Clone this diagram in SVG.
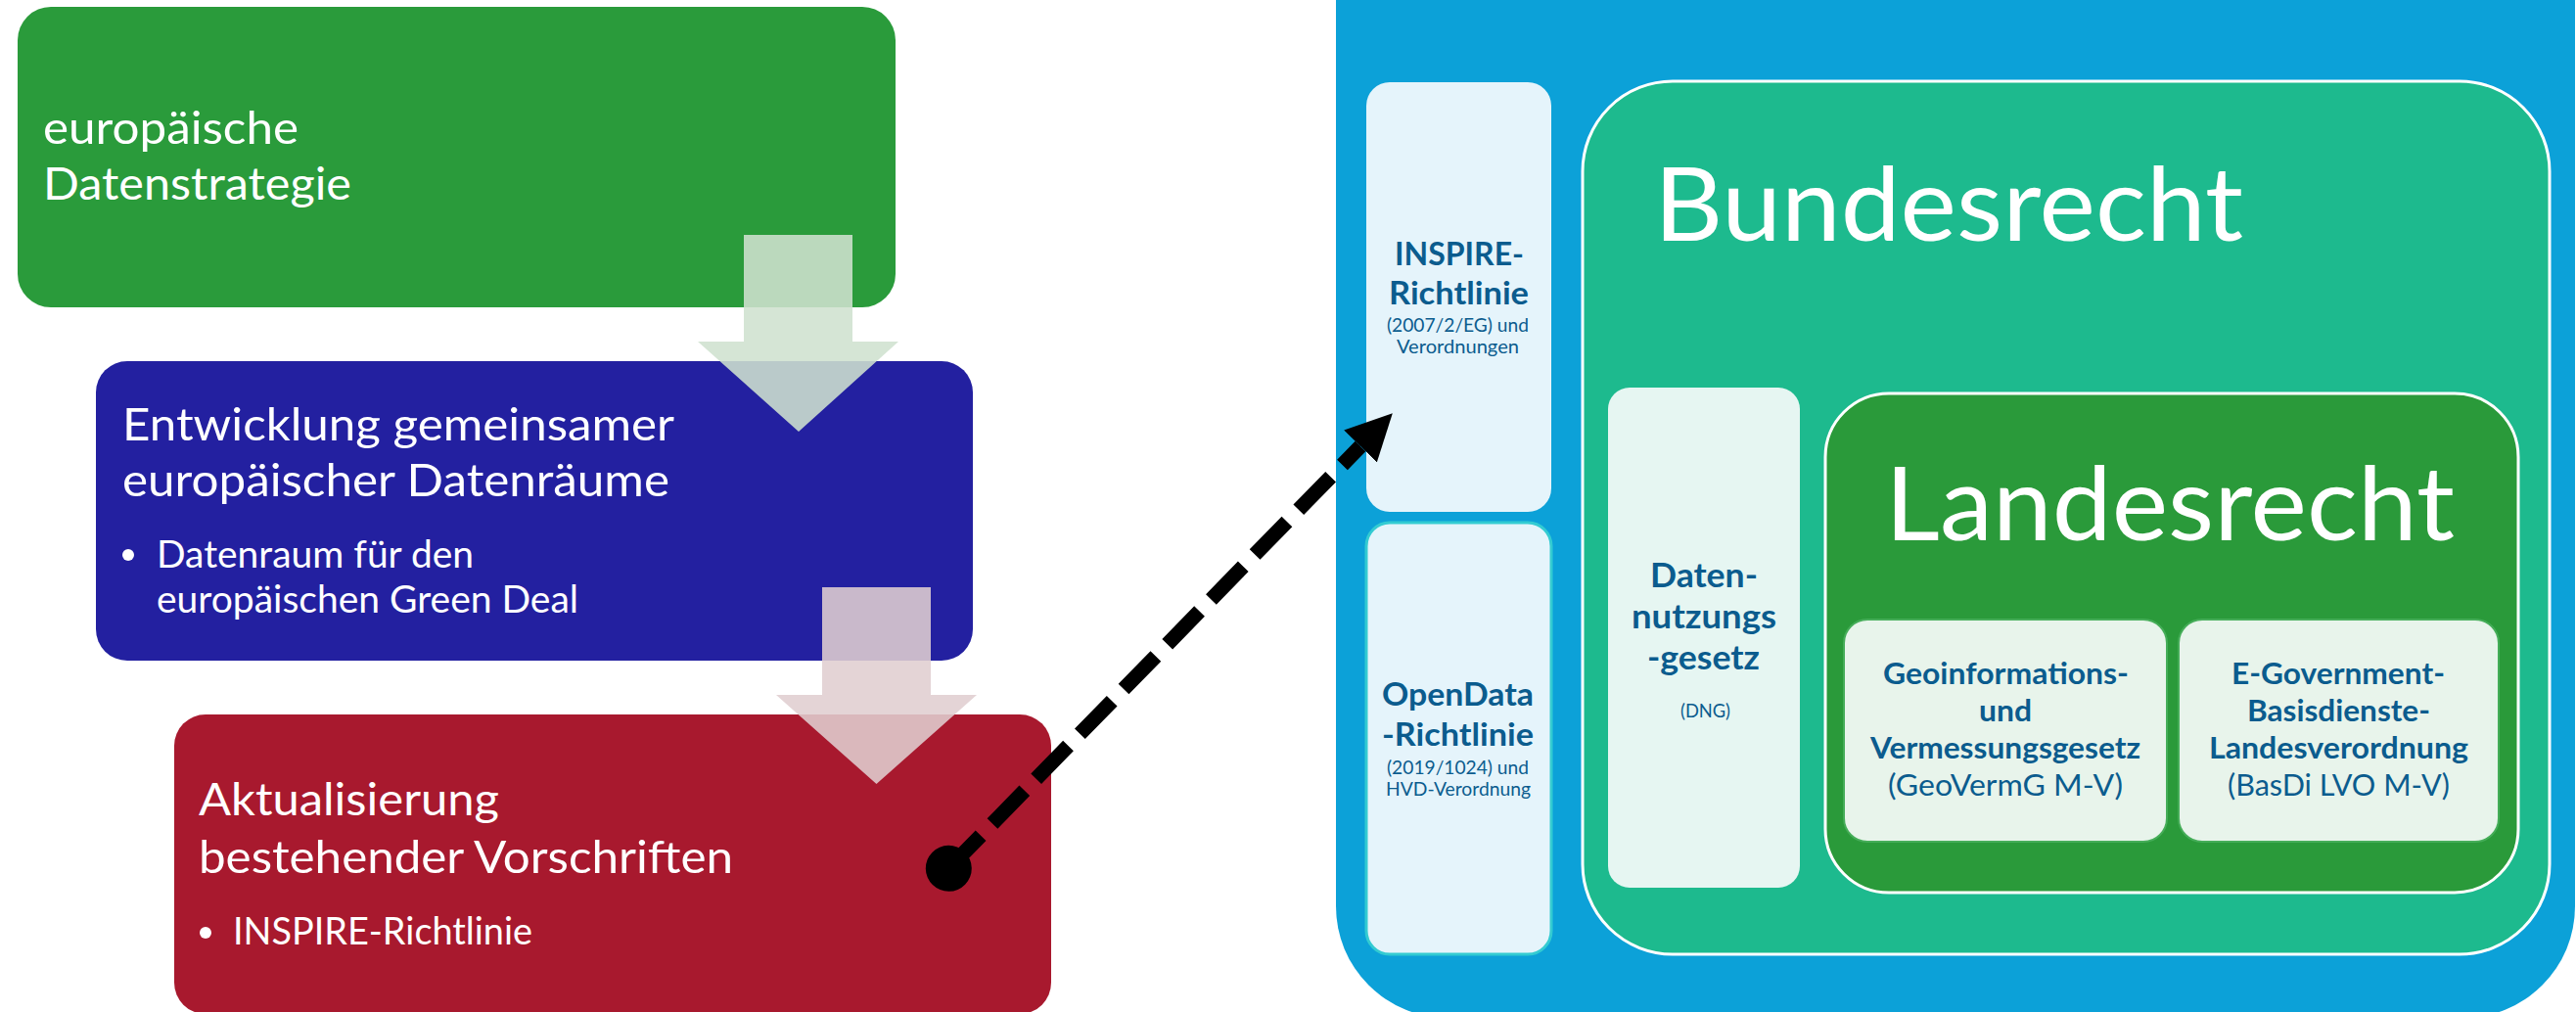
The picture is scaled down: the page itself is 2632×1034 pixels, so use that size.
<svg xmlns="http://www.w3.org/2000/svg" width="2632" height="1034" viewBox="0 0 2632 1034">
<defs>
<style>
.t{font-family:Lato,"Open Sans","Liberation Sans",sans-serif;fill:#ffffff}
.big{font-size:47px}
.bul{font-size:38px}
.huge{font-size:105px}
.b{font-family:Lato,"Open Sans","Liberation Sans",sans-serif;fill:#0b5c8e}
.bb{font-weight:700}
.s19{font-size:19px}
.s33{font-size:33px}
.s35{font-size:35px}
.s31{font-size:31px}
.box{stroke:none}
.light1{fill:#e5f4fb}
.light2{fill:#e6f6f2}
.light3{fill:#e8f4eb;stroke:#45ad58;stroke-width:2}
</style>
<marker id="dot" markerUnits="userSpaceOnUse" viewBox="0 0 48 48" refX="24" refY="24" markerWidth="48" markerHeight="48" orient="auto">
<circle cx="24" cy="24" r="23.5" fill="#000"/>
</marker>
<marker id="head" markerUnits="userSpaceOnUse" viewBox="0 0 47 47" refX="0" refY="23.5" markerWidth="47" markerHeight="47" orient="auto">
<path d="M0,0 L47,23.5 L0,47 z" fill="#000"/>
</marker>
</defs>
<rect width="2632" height="1034" fill="#ffffff"/>

<g id="node-datenstrategie">
<rect x="18" y="7" width="897" height="307" rx="34" fill="#2a9b3b"/>
<text class="t big" x="44" y="147" textLength="261" lengthAdjust="spacingAndGlyphs">europäische</text>
<text class="t big" x="44" y="204" textLength="315" lengthAdjust="spacingAndGlyphs">Datenstrategie</text>
</g>

<g id="node-datenraeume">
<rect x="98" y="369" width="896" height="306" rx="32" fill="#2320a0"/>
<text class="t big" x="125" y="450" textLength="564" lengthAdjust="spacingAndGlyphs">Entwicklung gemeinsamer</text>
<text class="t big" x="125" y="507" textLength="559" lengthAdjust="spacingAndGlyphs">europäischer Datenräume</text>
<circle cx="131" cy="567" r="6" fill="#ffffff"/>
<text class="t bul" x="160" y="580" textLength="324" lengthAdjust="spacingAndGlyphs">Datenraum für den</text>
<text class="t bul" x="160" y="626" textLength="431" lengthAdjust="spacingAndGlyphs">europäischen Green Deal</text>
</g>

<g id="node-aktualisierung">
<rect x="178" y="730" width="896" height="306" rx="32" fill="#a8192e"/>
<text class="t big" x="203" y="833" textLength="307" lengthAdjust="spacingAndGlyphs">Aktualisierung</text>
<text class="t big" x="203" y="892" textLength="546" lengthAdjust="spacingAndGlyphs">bestehender Vorschriften</text>
<circle cx="210" cy="953" r="6" fill="#ffffff"/>
<text class="t bul" x="238" y="965" textLength="306" lengthAdjust="spacingAndGlyphs">INSPIRE-Richtlinie</text>
</g>

<g id="block-arrows">
<path d="M760,240 L871,240 L871,349 L918,349 L816,441 L713,349 L760,349 Z" fill="#cfe1cf" fill-opacity="0.88"/>
<path d="M840,600 L951,600 L951,710 L998,710 L895.5,801 L793,710 L840,710 Z" fill="#e0ced0" fill-opacity="0.88"/>
</g>

<g id="node-eu-recht">
<rect x="1365" y="-200" width="1266" height="1240" rx="114" fill="#0ca1d8"/>
</g>

<g id="node-inspire">
<rect class="light1" x="1396" y="84" width="189" height="439" rx="24"/>
<text class="b bb s33" x="1425" y="271" textLength="132" lengthAdjust="spacingAndGlyphs">INSPIRE-</text>
<text class="b bb s33" x="1419" y="311" textLength="143" lengthAdjust="spacingAndGlyphs">Richtlinie</text>
<text class="b s19" x="1417" y="339" textLength="145" lengthAdjust="spacingAndGlyphs">(2007/2/EG) und</text>
<text class="b s19" x="1427" y="361" textLength="125" lengthAdjust="spacingAndGlyphs">Verordnungen</text>
</g>

<g id="node-opendata">
<rect class="light1" x="1396" y="534" width="189" height="441" rx="24" stroke="#33cbd2" stroke-width="3"/>
<text class="b bb s33" x="1412" y="721" textLength="155" lengthAdjust="spacingAndGlyphs">OpenData</text>
<text class="b bb s33" x="1412" y="762" textLength="155" lengthAdjust="spacingAndGlyphs">-Richtlinie</text>
<text class="b s19" x="1417" y="791" textLength="145" lengthAdjust="spacingAndGlyphs">(2019/1024) und</text>
<text class="b s19" x="1416" y="813" textLength="148" lengthAdjust="spacingAndGlyphs">HVD-Verordnung</text>
</g>

<g id="node-bundesrecht">
<rect x="1617" y="83" width="988" height="892" rx="92" fill="#1dba8e" stroke="#ffffff" stroke-width="3"/>
<text class="t huge" x="1690" y="246" textLength="602" lengthAdjust="spacingAndGlyphs">Bundesrecht</text>
</g>

<g id="node-dng">
<rect class="light2" x="1643" y="396" width="196" height="511" rx="22"/>
<text class="b bb s35" x="1686" y="600" textLength="110" lengthAdjust="spacingAndGlyphs">Daten-</text>
<text class="b bb s35" x="1667" y="642" textLength="148" lengthAdjust="spacingAndGlyphs">nutzungs</text>
<text class="b bb s35" x="1683" y="684" textLength="115" lengthAdjust="spacingAndGlyphs">-gesetz</text>
<text class="b s19" x="1717" y="733" textLength="51" lengthAdjust="spacingAndGlyphs">(DNG)</text>
</g>

<g id="node-landesrecht">
<rect x="1865" y="402" width="708" height="510" rx="65" fill="#2a9a3a" stroke="#ffffff" stroke-width="3"/>
<text class="t huge" x="1926" y="552" textLength="582" lengthAdjust="spacingAndGlyphs">Landesrecht</text>
</g>

<g id="node-geovermg">
<rect class="light3" x="1884" y="633" width="330" height="227" rx="24"/>
<text class="b bb s31" x="1924" y="699" textLength="251" lengthAdjust="spacingAndGlyphs">Geoinformations-</text>
<text class="b bb s31" x="2022" y="737" textLength="54" lengthAdjust="spacingAndGlyphs">und</text>
<text class="b bb s31" x="1911" y="775" textLength="276" lengthAdjust="spacingAndGlyphs">Vermessungsgesetz</text>
<text class="b s31" x="1929" y="813" textLength="240" lengthAdjust="spacingAndGlyphs">(GeoVermG M-V)</text>
</g>

<g id="node-basdi">
<rect class="light3" x="2226" y="633" width="327" height="227" rx="24"/>
<text class="b bb s31" x="2280" y="699" textLength="218" lengthAdjust="spacingAndGlyphs">E-Government-</text>
<text class="b bb s31" x="2296" y="737" textLength="187" lengthAdjust="spacingAndGlyphs">Basisdienste-</text>
<text class="b bb s31" x="2257" y="775" textLength="265" lengthAdjust="spacingAndGlyphs">Landesverordnung</text>
<text class="b s31" x="2276" y="813" textLength="227" lengthAdjust="spacingAndGlyphs">(BasDi LVO M-V)</text>
</g>

<g id="connectors">
<path d="M969.3,887.3 L1390,456" fill="none" stroke="#000" stroke-width="15" stroke-dasharray="47 17" marker-start="url(#dot)" marker-end="url(#head)"/>
</g>
</svg>
